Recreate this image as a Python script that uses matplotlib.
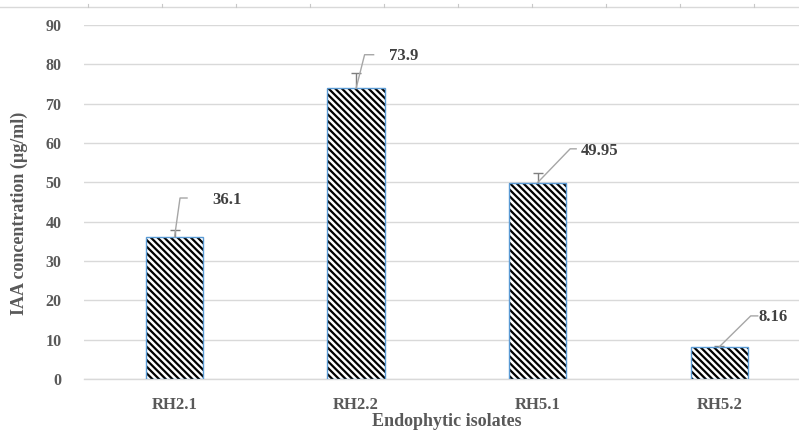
import matplotlib
matplotlib.use("Agg")
import matplotlib.pyplot as plt
from matplotlib.lines import Line2D

categories = ["RH2.1", "RH2.2", "RH5.1", "RH5.2"]
values = [36.1, 73.9, 49.95, 8.16]
errors = [1.8, 3.9, 2.5, 0.3]
value_labels = ["36.1", "73.9", "49.95", "8.16"]
yticks = [0, 10, 20, 30, 40, 50, 60, 70, 80, 90]

# label leader offsets in pixels (elbow dx, dy, end dx, text dx, text dy)
leader = [
    (5.5, 39, 12.5, 37.5, 37),
    (8.5, 33.6, 17.5, 32.5, 32.6),
    (32.5, 33.7, 38.5, 43.5, 31.7),
    (31.5, 31, 38.5, 39.5, 30),
]

plt.rcParams["font.family"] = ["Liberation Serif", "DejaVu Serif"]
plt.rcParams["hatch.linewidth"] = 1.6

W, H = 799, 433
fig = plt.figure(figsize=(W / 100, H / 100), dpi=100)
AXL, AXR, AXB, AXT = 83.75, 810, 379, 25
ax = fig.add_axes([AXL / W, (H - AXB) / H, (AXR - AXL) / W, (AXB - AXT) / H])

x = list(range(len(categories)))
ax.errorbar(x, values, yerr=errors, fmt="none", ecolor="#7f7f7f",
            elinewidth=1.0, capsize=3.5, capthick=1.0, zorder=2)
ax.bar(x, values, width=0.315, color="white", edgecolor="black",
       hatch="\\" * 5, linewidth=0, zorder=3)
ax.bar(x, values, width=0.315, fill=False, edgecolor="#5b9bd5",
       linewidth=1.0, zorder=4)

ax.set_xlim(-0.5, len(categories) - 0.5)
ax.set_ylim(0, 90)
ax.set_yticks(yticks)
ax.set_xticks(x)
ax.set_xticklabels(categories)
ax.yaxis.grid(True, color="#d9d9d9", linewidth=1.0)
ax.set_axisbelow(True)
for s in ["top", "right", "left"]:
    ax.spines[s].set_visible(False)
ax.spines["bottom"].set_color("#d9d9d9")
ax.spines["bottom"].set_linewidth(1.0)
ax.tick_params(axis="both", length=0, colors="#595959")
ax.tick_params(axis="y", pad=16, labelsize=11.5)
ax.tick_params(axis="x", pad=13, labelsize=12)
for t in ax.get_xticklabels() + ax.get_yticklabels():
    t.set_fontweight("bold")

ax.set_xlabel("Endophytic isolates", fontsize=13, fontweight="bold",
              color="#595959")
ax.set_ylabel("IAA concentration (µg/ml)", fontsize=13, fontweight="bold",
              color="#595959")
ax.xaxis.set_label_coords(0.5 - (AXL + (AXR - AXL) / 2 - 447) / (AXR - AXL),
                          -(413 - AXB) / (AXB - AXT))
ax.yaxis.set_label_coords(-(AXL - 28) / (AXR - AXL), (AXB - 213) / (AXB - AXT))

fig.canvas.draw()
for i, v in enumerate(values):
    px, py = ax.transData.transform((i, v))
    ex, ey, endx, tx, ty = leader[i]
    line = Line2D([px, px + ex, px + endx], [py, py + ey, py + ey],
                  color="#a6a6a6", linewidth=1.0, transform=None, zorder=5)
    fig.add_artist(line)
    fig.text((px + tx) / W, (py + ty) / H, value_labels[i], ha="left",
             va="center", fontsize=12, fontweight="bold", color="#404040")

# cropped frame line at top
fig.add_artist(Line2D([0, W], [H - 7, H - 7], color="#d9d9d9",
                      linewidth=1.0, transform=None))
for tx in range(88, W, 74):
    fig.add_artist(Line2D([tx, tx], [H - 7, H - 4], color="#c8c8c8",
                          linewidth=0.8, transform=None))

fig.savefig("out.png", dpi=100)
